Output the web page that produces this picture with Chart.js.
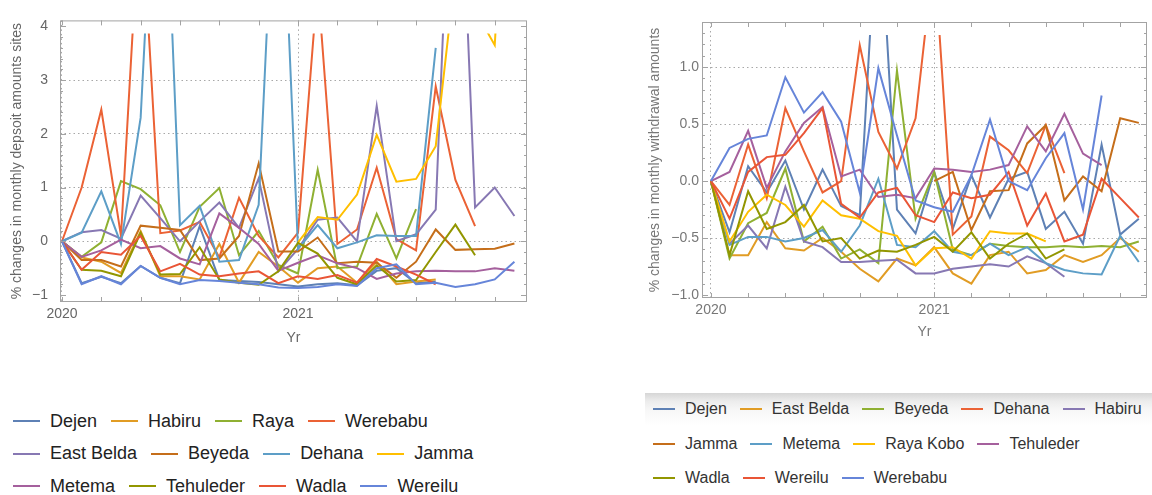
<!DOCTYPE html>
<html>
<head>
<meta charset="utf-8">
<script src="https://cdn.jsdelivr.net/npm/chart.js@4.4.1/dist/chart.umd.min.js"></script>
<style>
  html, body { margin: 0; padding: 0; background: #fff; }
  body { width: 1152px; height: 495px; position: relative; overflow: hidden;
         font-family: "Liberation Sans", Arial, sans-serif; }
  canvas { position: absolute; }
  .legend { position: absolute; }
  .row { display: flex; align-items: center; white-space: nowrap; }
  .item { display: flex; align-items: center; }
  .sw { display: inline-block; height: 2px; }
  #legDep { left: 13px; top: 405px; font-size: 18px; color: #222; }
  #legDep .row { height: 32.5px; }
  #legDep .sw { width: 27px; margin-right: 10px; }
  #legDep .item { margin-right: 14px; }
  #legWdBox { position: absolute; left: 645px; top: 393px; width: 507px; height: 102px;
              background: linear-gradient(to bottom, #d6d6d6 0px, #ececec 8px, #f8f8f8 18px, #fff 32px); }
  #legWd { left: 653px; top: 392px; font-size: 16px; color: #333; }
  #legWd .row { height: 34.5px; }
  #legWd .sw { width: 22px; margin-right: 10px; }
  #legWd .item { margin-right: 13px; }
</style>
</head>
<body>
<canvas id="depositChart" width="540" height="350" style="left:0;top:0;width:540px;height:350px"></canvas>
<canvas id="withdrawChart" width="512" height="345" style="left:640px;top:0;width:512px;height:345px"></canvas>
<div id="legDep" class="legend"></div>
<div id="legWdBox"></div>
<div id="legWd" class="legend"></div>
<script>
// months Jan 2020 .. Dec 2021 (x = month index)
const months = ["2020-01","2020-02","2020-03","2020-04","2020-05","2020-06","2020-07","2020-08","2020-09","2020-10","2020-11","2020-12",
                "2021-01","2021-02","2021-03","2021-04","2021-05","2021-06","2021-07","2021-08","2021-09","2021-10","2021-11","2021-12"];
const yearTicks = { 0: "2020", 12: "2021" };

// Mathematica default palette
const mmaColors = ["#5E81B5","#E19C24","#8FB032","#EB6235","#8778B3","#C56E1A","#5D9EC7","#FFBF00","#A5609D","#929600","#E95536","#6685D9"];

// ---- deposits (left) ----
const depNames = ["Dejen","Habiru","Raya","Werebabu","East Belda","Beyeda","Dehana","Jamma","Metema","Tehuleder","Wadla","Wereilu"];
const depDejen     = [0,-0.78,-0.66,-0.78,-0.46,-0.68,-0.78,0.28,-0.72,-0.74,-0.76,-0.8,-0.84,-0.8,-0.78,-0.82,-0.55,-0.5,-0.78,-0.75,null,null,null,null];
const depHabiru    = [0,-0.3,-0.38,-0.59,0.19,-0.65,-0.65,-0.71,-0.05,-0.77,-0.2,-0.47,-0.77,-0.5,-0.47,-0.77,-0.38,-0.8,-0.75,-0.71,null,null,null,null];
const depRaya      = [0,-0.29,-0.02,1.12,0.97,0.67,-0.2,0.64,0.99,-0.26,0.19,-0.44,-0.6,1.33,-0.5,-0.47,0.51,-0.32,0.6,null,null,null,null,null];
const depWerebabu  = [0,1.0,2.45,0.1,6.5,0.15,0.2,0.36,-0.3,0.81,0.1,-0.3,0.16,4.8,-0.05,0.22,1.37,0.04,-0.17,2.88,1.14,0.28,null,null];
const depEastBelda = [0,0.17,0.21,0.05,0.85,0.43,0,0.37,0.72,0.25,1.17,-0.56,-0.14,0.4,0.44,0,2.52,0,0.13,0.59,9.5,0.63,1.0,0.47];
const depBeyeda    = [0,-0.35,-0.35,-0.47,0.29,0.25,0.21,-0.35,-0.32,0.1,1.45,-0.19,-0.19,0.07,-0.41,-0.38,-0.4,-0.68,-0.38,0.22,-0.16,-0.15,-0.14,-0.04];
const depDehana    = [0,0.16,0.93,-0.05,2.3,9.4,0.3,0.66,-0.38,-0.35,0.68,8.5,-0.14,0.3,-0.13,-0.02,0.11,0.1,0.1,3.6,null,null,null,null];
const depJamma     = [null,null,null,null,null,null,null,null,null,null,null,null,-0.02,0.45,0.4,0.87,1.98,1.11,1.16,1.77,5.0,4.3,3.65,10];
const depMetema    = [0,-0.29,-0.17,0.03,-0.13,-0.09,-0.32,-0.43,0.52,0.25,-0.05,-0.55,-0.4,-0.26,-0.41,-0.5,-0.7,-0.6,-0.56,-0.55,-0.56,-0.56,-0.5,-0.55];
const depTehuleder = [0,-0.53,-0.55,-0.65,0.16,-0.62,-0.61,-0.11,-0.71,-0.77,-0.81,-0.56,-0.03,-0.23,-0.68,-0.8,-0.45,-0.75,-0.72,-0.2,0.31,-0.26,null,null];
const depWadla     = [0,-0.53,-0.2,-0.25,0.1,-0.56,-0.42,-0.62,-0.65,-0.6,-0.56,-0.78,-0.65,-0.7,-0.63,-0.77,-0.33,-0.47,-0.62,-0.8,null,null,null,null];
const depWereilu   = [0,-0.8,-0.65,-0.8,-0.46,-0.68,-0.8,-0.72,-0.74,-0.77,-0.8,-0.86,-0.87,-0.85,-0.8,-0.83,-0.5,-0.43,-0.8,-0.77,-0.85,-0.8,-0.71,-0.38];
const depSeries = [depDejen,depHabiru,depRaya,depWerebabu,depEastBelda,depBeyeda,depDehana,depJamma,depMetema,depTehuleder,depWadla,depWereilu];
const depYTicks = [-1,0,1,2,3,4];
const depGrid = [0,1,2,3];

// ---- withdrawals (right) ----
const wdNames = ["Dejen","East Belda","Beyeda","Dehana","Habiru","Jamma","Metema","Raya Kobo","Tehuleder","Wadla","Wereilu","Werebabu"];
const wdDejen     = [0,-0.45,0.13,-0.1,0.18,-0.25,0.1,-0.22,-0.3,2.57,-0.25,-0.46,0.08,-0.42,0.05,-0.32,0.02,0.08,-0.42,-0.27,-0.55,0.32,-0.47,-0.33];
const wdEastBelda = [0,-0.65,-0.65,-0.36,-0.59,-0.61,-0.5,-0.62,-0.77,-0.88,-0.68,-0.74,-0.58,-0.81,-0.9,-0.65,-0.62,-0.81,-0.78,-0.65,-0.71,-0.65,-0.5,-0.62];
const wdBeyeda    = [0,-0.68,-0.37,-0.28,0.11,-0.53,-0.4,-0.68,-0.6,-0.72,0.97,-0.33,0.08,-0.6,-0.65,-0.55,-0.57,-0.58,-0.58,-0.57,-0.58,-0.57,-0.58,-0.53];
const wdDehana    = [0,-0.21,0.32,-0.15,0.64,0.26,-0.1,0.0,1.19,0.43,0.11,0.55,2.0,-0.47,-0.31,0.39,0.27,0.07,0.49,0.07,null,null,null,null];
const wdHabiru    = [0,-0.55,-0.39,-0.59,-0.05,-0.53,-0.58,-0.71,-0.71,-0.7,-0.69,-0.81,-0.81,-0.77,-0.75,-0.73,-0.75,-0.66,-0.72,-0.84,null,null,null,null];
const wdJamma     = [null,null,null,null,null,null,null,null,null,null,null,null,0.0,0.08,-0.43,-0.09,-0.08,0.33,0.49,-0.17,0.04,-0.09,0.55,0.51];
const wdMetema    = [0,-0.56,-0.49,-0.49,-0.53,-0.5,-0.43,-0.62,-0.39,0.02,-0.56,-0.58,-0.44,-0.62,-0.65,-0.55,-0.65,-0.58,-0.72,-0.78,-0.81,-0.82,-0.48,-0.71];
const wdRayaKobo  = [0,-0.53,-0.27,-0.12,-0.21,-0.4,-0.17,-0.3,-0.33,-0.44,-0.48,-0.74,-0.59,-0.58,-0.68,-0.44,-0.46,-0.46,-0.53,null,null,null,null,null];
const wdTehuleder = [0,0.08,0.44,-0.06,0.26,0.51,0.65,0.04,0.1,-0.14,-0.12,-0.15,0.11,0.1,0.08,0.1,0.14,0.48,0.26,0.59,0.24,0.14,null,null];
const wdWadla     = [0,-0.65,-0.09,-0.42,-0.36,-0.21,-0.53,-0.5,-0.68,-0.61,-0.62,-0.56,-0.49,-0.62,-0.45,-0.68,-0.55,-0.46,-0.68,-0.6,null,null,null,null];
const wdWereilu   = [0,-0.33,0.08,0.21,0.23,0.42,0.64,-0.2,-0.32,-0.1,-0.06,-0.3,-0.36,-0.1,-0.15,-0.12,0.08,-0.39,-0.11,-0.53,-0.47,0.02,-0.15,-0.32];
const wdWerebabu  = [0,0.29,0.37,0.4,0.91,0.6,0.78,0.52,-0.1,0.99,0.4,-0.17,-0.23,-0.27,0.05,0.54,0.0,-0.08,0.2,0.42,-0.25,0.75,null,null];
const wdSeries = [wdDejen,wdEastBelda,wdBeyeda,wdDehana,wdHabiru,wdJamma,wdMetema,wdRayaKobo,wdTehuleder,wdWadla,wdWereilu,wdWerebabu];
const wdGrid = [-0.5,0,0.5,1];

Chart.defaults.font.family = '"Liberation Sans", Arial, sans-serif';
Chart.defaults.animation = false;

// Mathematica-like frame with inward ticks
const framePlugin = {
  id: "frame",
  afterDatasetsDraw(chart, args, opts) {
    const { ctx, chartArea: a, scales: { x, y } } = chart;
    ctx.save();
    ctx.strokeStyle = "#a3a3a3";
    ctx.lineWidth = 1;
    ctx.strokeRect(a.left + 0.5, a.top + 0.5, a.width - 1, a.height - 1);
    ctx.beginPath();
    x.ticks.forEach((t) => {
      const px = Math.round(x.getPixelForValue(t.value)) + 0.5;
      ctx.moveTo(px, a.bottom); ctx.lineTo(px, a.bottom - 5);
      ctx.moveTo(px, a.top); ctx.lineTo(px, a.top + 5);
    });
    y.ticks.forEach((t) => {
      const py = Math.round(y.getPixelForValue(t.value)) + 0.5;
      ctx.moveTo(a.left, py); ctx.lineTo(a.left + 6, py);
      ctx.moveTo(a.right, py); ctx.lineTo(a.right - 6, py);
    });
    const step = opts.minor;
    for (let v = Math.ceil(y.min / step) * step; v <= y.max; v += step) {
      const py = Math.round(y.getPixelForValue(v)) + 0.5;
      ctx.moveTo(a.left, py); ctx.lineTo(a.left + 3, py);
      ctx.moveTo(a.right, py); ctx.lineTo(a.right - 3, py);
    }
    ctx.stroke();
    ctx.restore();
  },
};

function makeDatasets(names, series) {
  return names.map((name, i) => ({
    label: name,
    data: series[i].map((v, k) => ({ x: k, y: v })),
    borderColor: mmaColors[i],
    backgroundColor: mmaColors[i],
    borderWidth: 2,
    pointRadius: 0,
    tension: 0,
    spanGaps: false,
    order: names.length - i,
    clip: { left: 0, top: -13, right: 0, bottom: 0 },
  }));
}

const minus = (s) => String(s).replace("-", "\u2212");

function makeOptions(cfg) {
  return {
    responsive: false,
    animation: false,
    layout: { padding: cfg.padding },
    plugins: { legend: { display: false }, tooltip: { enabled: false }, frame: { minor: cfg.minor } },
    scales: {
      x: {
        type: "linear",
        min: cfg.xMin, max: cfg.xMax,
        afterFit: (s) => { s.height = cfg.xHeight; },
        border: { display: false, dash: [1.5, 3] },
        grid: {
          drawTicks: false,
          color: (c) => (c.tick && (c.tick.value === 0 || c.tick.value === 12) ? "#a8a8a8" : "rgba(0,0,0,0)"),
        },
        ticks: {
          stepSize: 2, includeBounds: false, autoSkip: false, maxRotation: 0,
          padding: 4, color: cfg.tickColor, font: { size: 14 },
          callback: (v) => yearTicks[v] || "",
        },
        title: { display: true, text: "Yr", color: cfg.tickColor, font: { size: 14 }, padding: { top: 0, bottom: cfg.titleBottom } },
      },
      y: {
        min: cfg.yMin, max: cfg.yMax,
        afterFit: (s) => { s.width = cfg.yWidth; },
        border: { display: false, dash: [1.5, 3] },
        grid: {
          drawTicks: false,
          color: (c) => (c.tick && cfg.grid.some((g) => Math.abs(g - c.tick.value) < 1e-6) ? "#a8a8a8" : "rgba(0,0,0,0)"),
        },
        ticks: {
          stepSize: cfg.yStep, includeBounds: false, padding: cfg.yPad,
          color: cfg.tickColor, font: { size: 14 },
          callback: cfg.yLabel,
        },
        title: { display: true, text: cfg.yTitle, color: cfg.tickColor, font: { size: 14 }, padding: { top: cfg.yTitlePad, bottom: 0 } },
      },
    },
  };
}

new Chart(document.getElementById("depositChart"), {
  type: "line",
  data: { datasets: makeDatasets(depNames, depSeries) },
  options: makeOptions({
    padding: { left: 0, top: 10, right: 13, bottom: 0 },
    xMin: -0.1, xMax: 23.64, xHeight: 48, titleBottom: 3.6,
    yMin: -1.13, yMax: 4.11, yWidth: 60, yStep: 1, yPad: 12, grid: depGrid,
    yLabel: (v) => (depYTicks.includes(v) ? minus(v) : ""),
    yTitle: "% changes in monthly depsoit amounts sites", yTitlePad: 8.6,
    tickColor: "#666", minor: 0.2,
  }),
  plugins: [framePlugin],
});

new Chart(document.getElementById("withdrawChart"), {
  type: "line",
  data: { datasets: makeDatasets(wdNames, wdSeries) },
  options: makeOptions({
    padding: { left: 0, top: 22, right: 5, bottom: 0 },
    xMin: -0.48, xMax: 23.44, xHeight: 47, titleBottom: 4.6,
    yMin: -1.026, yMax: 1.395, yWidth: 62, yStep: 0.5, yPad: 3, grid: wdGrid,
    yLabel: (v) => minus(Number(v).toFixed(1)),
    yTitle: "% changes in monthly withdrawal amounts", yTitlePad: 6.6,
    tickColor: "#777", minor: 0.1,
  }),
  plugins: [framePlugin],
});

// HTML legends built from the same names/colours
function buildLegend(el, names, perRow) {
  let idx = 0;
  perRow.forEach((n) => {
    const row = document.createElement("div");
    row.className = "row";
    for (let k = 0; k < n; k++, idx++) {
      const item = document.createElement("span");
      item.className = "item";
      const sw = document.createElement("span");
      sw.className = "sw";
      sw.style.background = mmaColors[idx];
      item.appendChild(sw);
      item.appendChild(document.createTextNode(names[idx]));
      row.appendChild(item);
    }
    el.appendChild(row);
  });
}
buildLegend(document.getElementById("legDep"), depNames, [4, 4, 4]);
buildLegend(document.getElementById("legWd"), wdNames, [5, 4, 3]);
</script>
</body>
</html>
